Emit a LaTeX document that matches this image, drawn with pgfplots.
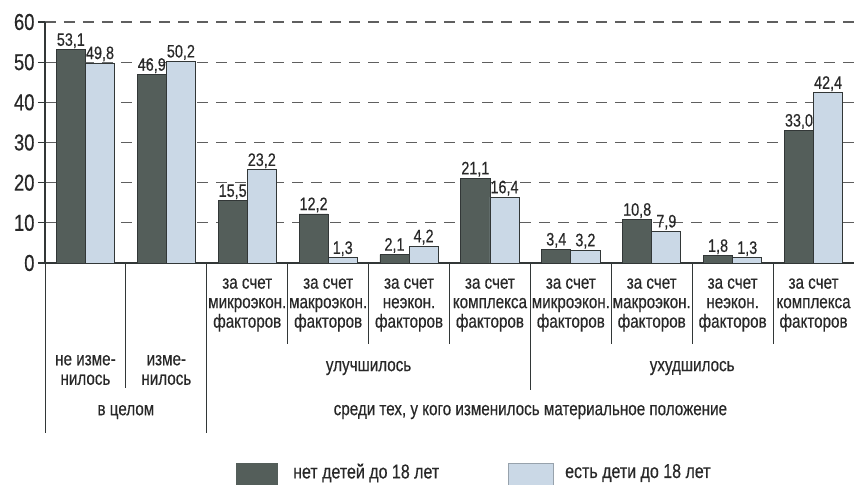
\documentclass[border=0pt]{standalone}
\usepackage{fontspec}
\setmainfont[FakeStretch=0.8,FakeBold=0.4]{Liberation Sans}
\usepackage{pgfplots}
\pgfplotsset{compat=1.18}
\definecolor{darkbar}{RGB}{84,94,90}
\definecolor{lightbar}{RGB}{202,216,230}
\definecolor{edge}{RGB}{50,55,55}
\definecolor{gridc}{RGB}{95,95,95}
\definecolor{txt}{RGB}{40,40,40}
\tikzset{
  cat/.style={font=\fontsize{19bp}{19.5bp}\selectfont, align=center, text=txt, inner sep=0pt},
  sep/.style={draw=edge, line width=0.9bp},
}
\begin{document}
\begin{tikzpicture}
\useasboundingbox (-45bp,-222bp) rectangle (809bp,263bp);
\begin{axis}[
  scale only axis, width=809bp, height=241bp,
  xmin=-0.5, xmax=9.5, ymin=0, ymax=60,
  axis x line=bottom, axis y line=left,
  axis line style={-, edge, line width=1.1bp},
  xtick=\empty, ytick={0,10,...,60},
  tick align=outside, major tick length=7bp,
  tick style={edge, line width=1.1bp},
  ymajorgrids, grid style={gridc, line width=1.1bp, dash pattern=on 11bp off 8bp},
  /pgf/number format/assume math mode=true,
  yticklabel style={font=\fontsize{23bp}{23bp}\selectfont, text=txt},
  ybar=0pt, bar width=0.36,
  clip=false,
  nodes near coords={\pgfmathprintnumber[fixed,fixed zerofill,precision=1,use comma,assume math mode=true]{\pgfplotspointmeta}},
  every node near coord/.append style={font=\fontsize{18bp}{18bp}\selectfont, text=txt, inner sep=1.2bp},
]
\addplot[fill=darkbar, draw=edge, line width=0.8bp] coordinates {
  (0,53.1) (1,46.9) (2,15.5) (3,12.2) (4,2.1) (5,21.1) (6,3.4) (7,10.8) (8,1.8) (9,33.0)};
\addplot[fill=lightbar, draw=edge, line width=0.8bp] coordinates {
  (0,49.8) (1,50.2) (2,23.2) (3,1.3) (4,4.2) (5,16.4) (6,3.2) (7,7.9) (8,1.3) (9,42.4)};

% separators
\draw[sep] (axis cs:-0.5,0) -- ([yshift=-170bp]axis cs:-0.5,0);
\draw[sep] (axis cs:0.5,0) -- ([yshift=-125bp]axis cs:0.5,0);
\draw[sep] (axis cs:1.5,0) -- ([yshift=-170bp]axis cs:1.5,0);
\draw[sep] (axis cs:2.5,0) -- ([yshift=-81bp]axis cs:2.5,0);
\draw[sep] (axis cs:3.5,0) -- ([yshift=-81bp]axis cs:3.5,0);
\draw[sep] (axis cs:4.5,0) -- ([yshift=-81bp]axis cs:4.5,0);
\draw[sep] (axis cs:5.5,0) -- ([yshift=-127bp]axis cs:5.5,0);
\draw[sep] (axis cs:6.5,0) -- ([yshift=-81bp]axis cs:6.5,0);
\draw[sep] (axis cs:7.5,0) -- ([yshift=-81bp]axis cs:7.5,0);
\draw[sep] (axis cs:8.5,0) -- ([yshift=-81bp]axis cs:8.5,0);

% category labels
\node[cat] at ([yshift=-42bp]axis cs:2,0) {за счет\\микроэкон.\\факторов};
\node[cat] at ([yshift=-42bp]axis cs:3,0) {за счет\\макроэкон.\\факторов};
\node[cat] at ([yshift=-42bp]axis cs:4,0) {за счет\\неэкон.\\факторов};
\node[cat] at ([yshift=-42bp]axis cs:5,0) {за счет\\комплекса\\факторов};
\node[cat] at ([yshift=-42bp]axis cs:6,0) {за счет\\микроэкон.\\факторов};
\node[cat] at ([yshift=-42bp]axis cs:7,0) {за счет\\макроэкон.\\факторов};
\node[cat] at ([yshift=-42bp]axis cs:8,0) {за счет\\неэкон.\\факторов};
\node[cat] at ([yshift=-42bp]axis cs:9,0) {за счет\\комплекса\\факторов};
\node[cat] at ([yshift=-107bp]axis cs:0,0) {не изме-\\нилось};
\node[cat] at ([yshift=-107bp]axis cs:1,0) {изме-\\нилось};
\node[cat] at ([yshift=-105bp]axis cs:3.5,0) {улучшилось};
\node[cat] at ([yshift=-105bp]axis cs:7.5,0) {ухудшилось};
\node[cat] at ([yshift=-149bp]axis cs:0.5,0) {в целом};
\node[cat] at ([yshift=-149bp]axis cs:5.5,0) {среди тех, у кого изменилось материальное положение};
\end{axis}
% legend
\fill[darkbar] (191bp,-200bp) rectangle (233bp,-230bp);
\node[anchor=west, inner sep=0pt, font=\fontsize{20bp}{20bp}\selectfont, text=txt] at (248bp,-210bp) {нет детей до 18 лет};
\filldraw[fill=lightbar, draw=lightbar!75!black, line width=0.6bp] (463bp,-200bp) rectangle (508bp,-230bp);
\node[anchor=west, inner sep=0pt, font=\fontsize{20bp}{20bp}\selectfont, text=txt] at (520bp,-210bp) {есть дети до 18 лет};
\end{tikzpicture}
\end{document}
